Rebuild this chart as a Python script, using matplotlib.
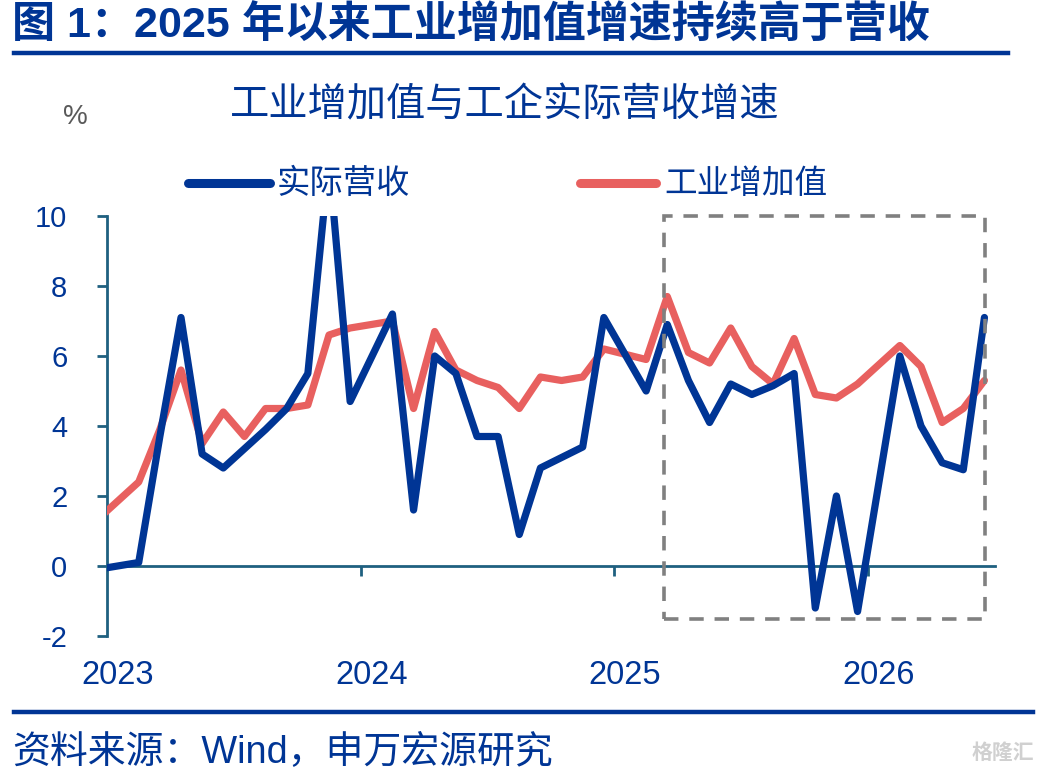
import matplotlib
matplotlib.use("Agg")
import matplotlib.pyplot as plt
import matplotlib.transforms as mtransforms
from matplotlib.patches import Rectangle
from matplotlib.lines import Line2D

plt.rcParams['font.family'] = ['Liberation Sans', 'Noto Sans CJK SC', 'DejaVu Sans']

# ---------------- data ----------------
dates = ["2022-12",
         "2023-02", "2023-03", "2023-04", "2023-05", "2023-06", "2023-07", "2023-08",
         "2023-09", "2023-10", "2023-11", "2023-12",
         "2024-02", "2024-03", "2024-04", "2024-05", "2024-06", "2024-07", "2024-08",
         "2024-09", "2024-10", "2024-11", "2024-12",
         "2025-02", "2025-03", "2025-04", "2025-05", "2025-06", "2025-07", "2025-08",
         "2025-09", "2025-10", "2025-11", "2025-12",
         "2026-02", "2026-03", "2026-04", "2026-05", "2026-06"]

real_revenue = [-0.1,
                0.1, 3.7, 7.1, 3.2, 2.8, 3.35, 3.9, 4.5, 5.5, 11.6, 4.7,
                7.2, 1.6, 6.0, 5.5, 3.7, 3.7, 0.9, 2.8, 3.1, 3.4, 7.1,
                5.0, 6.9, 5.3, 4.1, 5.2, 4.9, 5.15, 5.5, -1.2, 2.0, -1.3,
                6.0, 4.0, 2.95, 2.75, 7.1]

industrial_va = [1.3,
                 2.4, 3.9, 5.6, 3.5, 4.4, 3.7, 4.5, 4.5, 4.6, 6.6, 6.8,
                 7.0, 4.5, 6.7, 5.6, 5.3, 5.1, 4.5, 5.4, 5.3, 5.4, 6.2,
                 5.9, 7.7, 6.1, 5.8, 6.8, 5.7, 5.2, 6.5, 4.9, 4.8, 5.2,
                 6.3, 5.7, 4.1, 4.5, 5.3]

year_labels = ["2023", "2024", "2025", "2026"]
yticks = [-2, 0, 2, 4, 6, 8, 10]

series_names = ["实际营收", "工业增加值"]
title_text = "图 1：2025 年以来工业增加值增速持续高于营收"
chart_title = "工业增加值与工企实际营收增速"
source_text = "资料来源：Wind，申万宏源研究"

# ---------------- styling ----------------
BLUE = "#003595"
RED = "#E8605F"
AXC = "#1F6080"
W, H = 1048, 778


def month_index(s):
    y, m = s.split("-")
    return (int(y) - 2023) * 12 + (int(m) - 1)


x = [month_index(d) for d in dates]

fig = plt.figure(figsize=(W / 100, H / 100), dpi=100)
ax = fig.add_axes([107 / W, 1 - 636 / H, (995 - 107) / W, (636 - 216) / H])

ax.plot(x, industrial_va, color=RED, lw=5.2, solid_joinstyle='round',
        solid_capstyle='round', zorder=3)
ax.plot(x, real_revenue, color=BLUE, lw=5.2, solid_joinstyle='round',
        solid_capstyle='round', zorder=4)

ax.set_xlim(-0.5, 41.5)
ax.set_ylim(-2, 10)

for s in ['top', 'right']:
    ax.spines[s].set_visible(False)
ax.spines['left'].set_color(AXC)
ax.spines['left'].set_linewidth(2)
ax.spines['bottom'].set_color(AXC)
ax.spines['bottom'].set_linewidth(2)
ax.spines['bottom'].set_position(('data', 0))

ax.set_yticks(yticks)
ax.set_yticklabels([str(v) for v in yticks])
ax.tick_params(axis='y', direction='out', length=7.5, width=2, color=AXC,
               labelsize=21, labelcolor=BLUE, pad=21)
year_starts = [12 * i for i in range(len(year_labels))]
ax.set_xticks([v + 11.5 for v in year_starts[:-1]])
ax.set_xticklabels([])
ax.tick_params(axis='x', direction='out', length=7, width=2, color=AXC)

trans = mtransforms.blended_transform_factory(ax.transData, ax.transAxes)
for xs, lab in zip(year_starts, year_labels):
    ax.text(xs, -0.093, lab, transform=trans, ha='center', va='center',
            fontsize=23.5, color=BLUE, clip_on=False)

# dashed highlight box
rect = Rectangle((25.85, -1.52), 41.05 - 25.85, 10.0 + 1.52, fill=False,
                 edgecolor="#808080", lw=2.6, ls=(0, (4, 3)), clip_on=False, zorder=5)
ax.add_patch(rect)

# ---------------- figure texts ----------------
def fx(px):
    return px / W


def fy(py):
    return 1 - py / H


fig.text(fx(12), fy(26), title_text, fontsize=31, fontweight='bold', color=BLUE,
         ha='left', va='center')
fig.add_artist(Line2D([fx(14), fx(1008)], [fy(53), fy(53)], color=BLUE, lw=3.2))

fig.text(fx(505), fy(106), chart_title, fontsize=28.3, color=BLUE, ha='center', va='center')
fig.text(fx(75), fy(117), "%", fontsize=20, color="#595959", ha='center', va='center')

# legend
fig.add_artist(Line2D([fx(188), fx(270)], [fy(183), fy(183)], color=BLUE, lw=6.5,
                      solid_capstyle='round'))
fig.text(fx(277), fy(184), series_names[0], fontsize=24, color=BLUE, ha='left', va='center')
fig.add_artist(Line2D([fx(580), fx(656)], [fy(183), fy(183)], color=RED, lw=6.5,
                      solid_capstyle='round'))
fig.text(fx(664), fy(184), series_names[1], fontsize=23.5, color=BLUE, ha='left', va='center')

fig.add_artist(Line2D([fx(14), fx(1033)], [fy(712), fy(712)], color=BLUE, lw=3.2))
fig.text(fx(12), fy(753), source_text, fontsize=27.3, color=BLUE, ha='left', va='center')

fig.text(fx(1003), fy(753), "格隆汇", fontsize=15, color="#D0D0D0", fontweight='bold',
         ha='center', va='center')

fig.savefig("out.png", dpi=100)
